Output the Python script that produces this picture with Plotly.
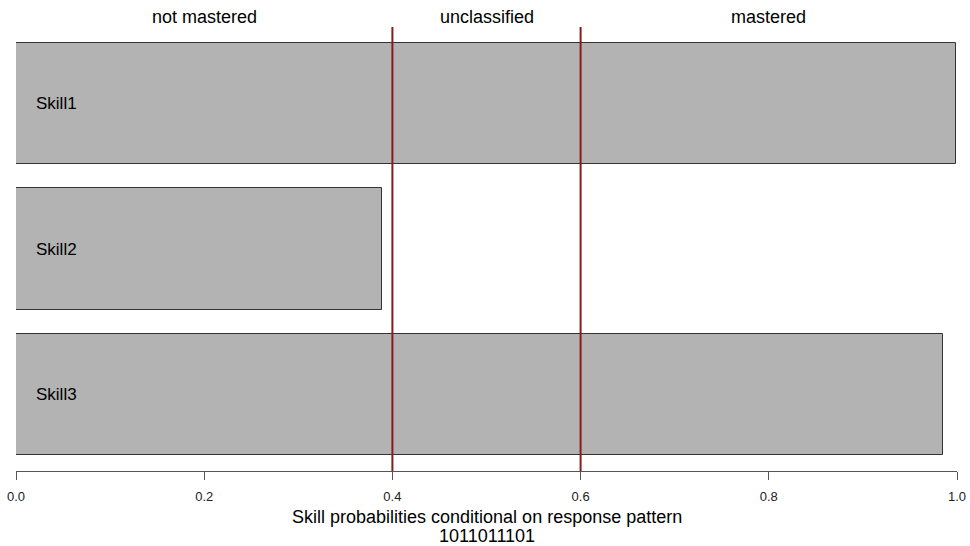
import plotly.graph_objects as go

skills = ["Skill1", "Skill2", "Skill3"]
probs = [0.999, 0.389, 0.985]
thresholds = [0.4, 0.6]
regions = ["not mastered", "unclassified", "mastered"]
region_centers = [0.2, 0.5, 0.8]
tick_vals = [0.0, 0.2, 0.4, 0.6, 0.8, 1.0]
tick_text = ["0.0", "0.2", "0.4", "0.6", "0.8", "1.0"]
pattern = "1011011101"

font = "Liberation Sans, Arial, Helvetica, sans-serif"

fig = go.Figure()
fig.add_trace(go.Bar(
    x=probs, y=list(range(len(skills))), orientation="h",
    width=1 / 1.2,
    marker=dict(color="#b3b3b3", line=dict(color="#333333", width=1)),
    hoverinfo="skip", showlegend=False,
))

for t in thresholds:
    fig.add_shape(type="line", xref="x", yref="paper", x0=t, x1=t, y0=0, y1=1,
                  line=dict(color="#8b1a1a", width=2), layer="above")

annotations = []
for i, s in enumerate(skills):
    annotations.append(dict(x=0.019, y=i, xref="x", yref="y", text=s, showarrow=False,
                            xanchor="left", yanchor="middle",
                            font=dict(size=17, color="#000000", family=font)))
for r, c in zip(regions, region_centers):
    annotations.append(dict(x=c, y=1, xref="x", yref="paper", text=r, showarrow=False,
                            xanchor="center", yanchor="middle", yshift=10,
                            font=dict(size=18, color="#000000", family=font)))
annotations.append(dict(x=0.5, y=0, xref="paper", yref="paper",
                        text="Skill probabilities conditional on response pattern",
                        showarrow=False, xanchor="center", yanchor="middle", yshift=-46,
                        font=dict(size=18, color="#000000", family=font)))
annotations.append(dict(x=0.5, y=0, xref="paper", yref="paper", text=pattern,
                        showarrow=False, xanchor="center", yanchor="middle", yshift=-65,
                        font=dict(size=18, color="#000000", family=font)))

fig.update_layout(
    width=970, height=546,
    margin=dict(l=16, r=13, t=27, b=75, autoexpand=False),
    paper_bgcolor="white", plot_bgcolor="white",
    bargap=0,
    annotations=annotations,
    xaxis=dict(range=[0, 1], tickvals=tick_vals, ticktext=tick_text, automargin=False,
               showgrid=False, zeroline=False, showline=True, linecolor="#555555",
               linewidth=1, ticks="outside", ticklen=8, tickcolor="#555555",
               ticklabelstandoff=5,
               tickfont=dict(size=13, color="#222222", family=font)),
    yaxis=dict(range=[2.526, -0.526], showticklabels=False, showgrid=False,
               zeroline=False, showline=False, ticks="", automargin=False),
)

fig.write_html("out.html", config={"displayModeBar": False},
               post_script="document.body.style.margin='0';document.body.style.overflow='hidden';")
